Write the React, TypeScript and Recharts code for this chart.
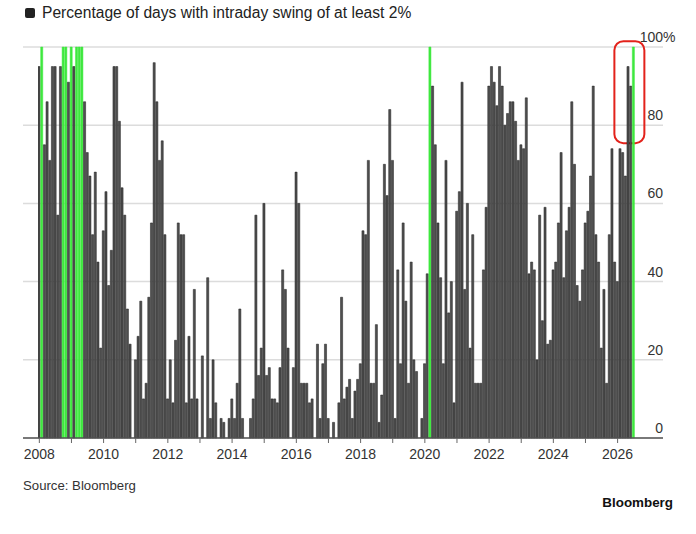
import { Bar, BarChart, CartesianGrid, Cell, ReferenceArea, XAxis, YAxis } from 'recharts';

// monthly share of trading days with an intraday swing >= 2%, Jan 2008 onward
const startYear = 2008;
const swingPct = [
    95, 100, 75, 86, 71, 95, 95, 57, 95, 100, 100, 91,
    100, 95, 100, 100, 100, 86, 73, 67, 52, 68, 45, 23,
    53, 63, 39, 48, 95, 95, 81, 64, 57, 33, 24, 0,
    20, 26, 35, 10, 14, 36, 55, 96, 86, 71, 76, 52,
    10, 20, 9, 25, 55, 52, 52, 9, 26, 10, 38, 10,
    0, 21, 0, 41, 5, 20, 9, 0, 5, 4, 0, 5,
    10, 5, 14, 33, 5, 0, 0, 5, 10, 57, 16, 23,
    60, 16, 18, 10, 10, 9, 18, 43, 38, 23, 0, 18,
    68, 60, 14, 14, 14, 9, 10, 0, 24, 5, 19, 24,
    5, 0, 4, 0, 9, 36, 10, 13, 15, 5, 12, 15,
    19, 53, 52, 71, 14, 14, 29, 4, 11, 70, 62, 84,
    71, 5, 43, 19, 55, 35, 14, 45, 20, 17, 0, 5,
    19, 42, 100, 90, 75, 55, 41, 19, 71, 32, 40, 9,
    58, 63, 91, 38, 60, 23, 52, 14, 14, 14, 43, 59,
    90, 95, 91, 85, 95, 90, 80, 83, 86, 86, 81, 71,
    75, 74, 87, 42, 45, 43, 20, 57, 30, 59, 24, 25,
    43, 45, 55, 73, 41, 53, 59, 86, 70, 39, 35, 43,
    55, 58, 67, 90, 52, 45, 23, 38, 14, 52, 74, 45,
    40, 74, 73, 67, 95, 90, 100,
];
const tickYears = [
    2008, 2009, 2010, 2011, 2012, 2013, 2014, 2015, 2016, 2017,
    2018, 2019, 2020, 2021, 2022, 2023, 2024, 2025, 2026,
];
const valueTicks = [0, 20, 40, 60, 80, 100];
// red callout around the latest months (month index / percent units)
const callout = { x1: 214.8, x2: 226, y1: 75.4, y2: 101.5 };

const data = swingPct.map((value, month) => ({ month, value }));
const monthTicks = tickYears.map((year) => (year - startYear) * 12);

const fontFamily = '"Liberation Sans", Arial, Helvetica, sans-serif';
const textColor = '#333';
const barColor = '#505050';
const highlightColor = '#3fe83f';

const formatYear = (month: number) => {
    const year = startYear + Math.round(month / 12);
    return year % 2 === 0 ? String(year) : '';
};

const ValueTick = ({ x, y, payload }: any) => (
    <g>
        <text x={x} y={y - 5} textAnchor="end" fontSize={14} fill={textColor} fontFamily={fontFamily}>
            {payload.value}
        </text>
        {payload.value === 100 && (
            <text x={x} y={y - 5} textAnchor="start" fontSize={14} fill={textColor} fontFamily={fontFamily}>
                %
            </text>
        )}
    </g>
);

const CalloutBox = ({ x, y, width, height }: any) => (
    <rect x={x} y={y} width={width} height={height} rx={9} ry={9} fill="none" stroke="#e3221b" strokeWidth={2} />
);

export default function App() {
    return (
        <div style={{ position: 'absolute', left: 0, top: 0, width: 696, height: 534, fontFamily, color: textColor, background: '#fff' }}>
            <div style={{ position: 'absolute', left: 25, top: 4, display: 'flex', alignItems: 'center', fontSize: 15.6, color: '#222' }}>
                <span style={{ display: 'inline-block', width: 10, height: 10, borderRadius: 2, background: '#222', marginRight: 7 }} />
                Percentage of days with intraday swing of at least 2%
            </div>
            <BarChart
                width={696}
                height={534}
                data={data}
                margin={{ top: 47, right: 0, left: 23, bottom: 66 }}
                barCategoryGap={0}
            >
                <CartesianGrid vertical={false} stroke="#dcdcdc" strokeWidth={1.5} />
                <XAxis
                    type="number"
                    dataKey="month"
                    domain={[-0.5, swingPct.length - 0.5]}
                    allowDataOverflow
                    padding={{ left: 15, right: 28 }}
                    ticks={monthTicks}
                    interval={0}
                    tickFormatter={formatYear}
                    height={30}
                    tickSize={5}
                    tickMargin={6}
                    tickLine={{ stroke: '#666' }}
                    axisLine={{ stroke: '#555', strokeWidth: 1.5 }}
                    tick={{ fill: textColor, fontSize: 14, fontFamily }}
                />
                <YAxis
                    orientation="right"
                    width={33}
                    domain={[0, 100]}
                    ticks={valueTicks}
                    interval={0}
                    tickSize={0}
                    tickMargin={0}
                    axisLine={false}
                    tickLine={false}
                    tick={ValueTick}
                />
                <Bar dataKey="value" barSize={2.1} isAnimationActive={false}>
                    {data.map((d) => (
                        <Cell
                            key={d.month}
                            fill={d.value >= 100 ? highlightColor : barColor}
                            stroke={d.value >= 100 ? highlightColor : '#1c1c1c'}
                            strokeWidth={0.5}
                        />
                    ))}
                </Bar>
                <ReferenceArea
                    x1={callout.x1}
                    x2={callout.x2}
                    y1={callout.y1}
                    y2={callout.y2}
                    ifOverflow="visible"
                    shape={<CalloutBox />}
                />
            </BarChart>
            <div style={{ position: 'absolute', left: 23, top: 478, fontSize: 13.2 }}>Source: Bloomberg</div>
            <div style={{ position: 'absolute', right: 23, top: 495, fontSize: 13.4, fontWeight: 700, color: '#111' }}>Bloomberg</div>
        </div>
    );
}
